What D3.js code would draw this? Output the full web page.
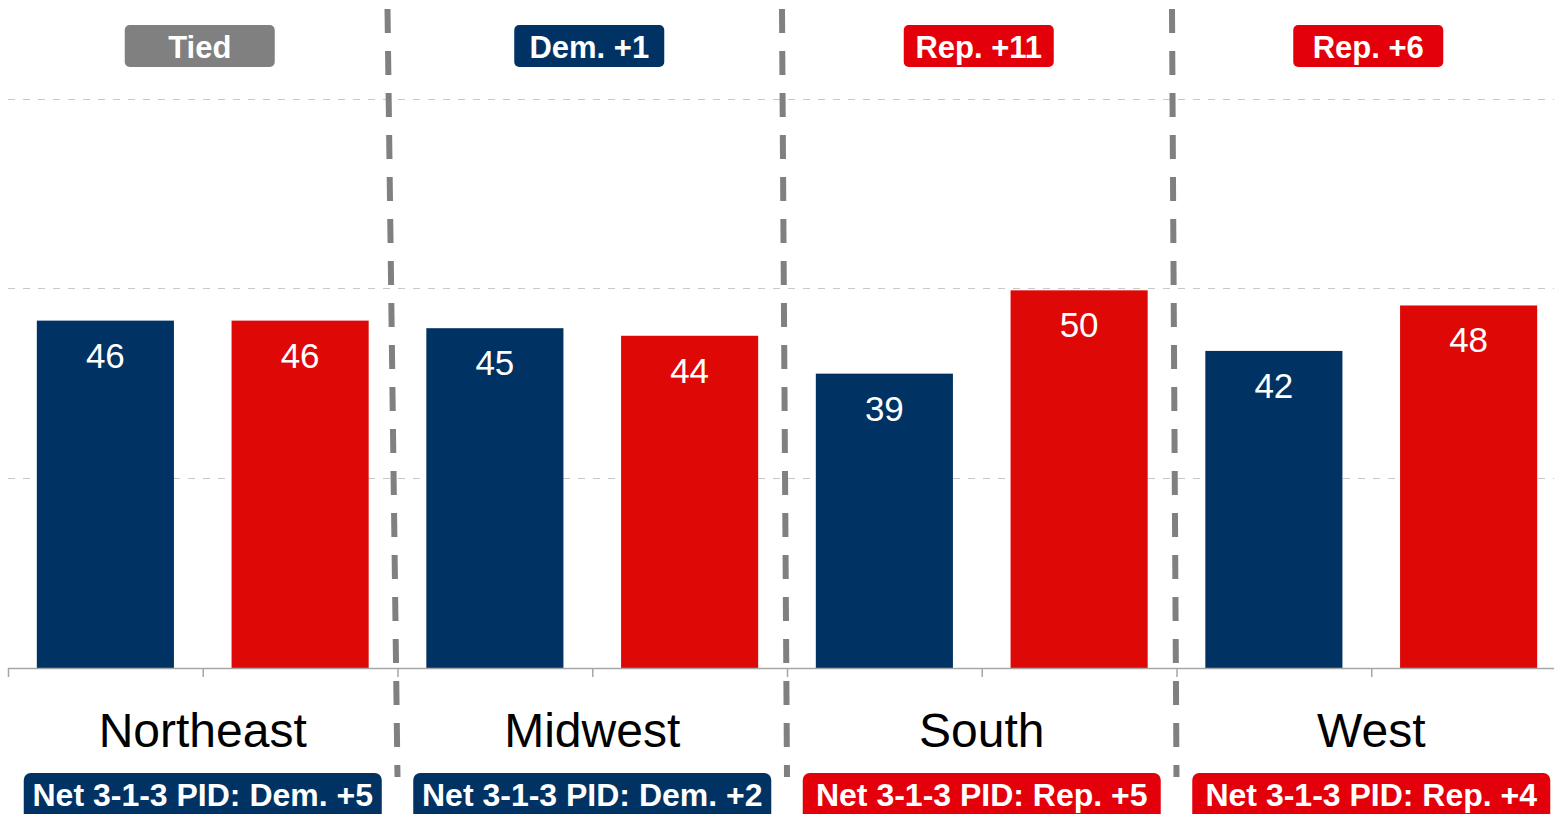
<!DOCTYPE html>
<html><head><meta charset="utf-8">
<script src="https://cdn.jsdelivr.net/npm/d3@7"></script>
<style>
html,body{margin:0;padding:0;background:#fff;}
svg{display:block;font-family:"Liberation Sans",Arial,sans-serif;}
</style></head>
<body>
<svg id="chart" width="1554" height="814"></svg>
<script>
const regions = ["Northeast","Midwest","South","West"];
const parties = ["Dem","Rep"];
const demValues = [46,45,39,42];
const repValues = [46,44,50,48];
const marginLabels = ["Tied","Dem. +1","Rep. +11","Rep. +6"];
const marginParty = ["Tie","Dem","Rep","Rep"];
const pidLabels = ["Net 3-1-3 PID: Dem. +5","Net 3-1-3 PID: Dem. +2","Net 3-1-3 PID: Rep. +5","Net 3-1-3 PID: Rep. +4"];
const pidParty = ["Dem","Dem","Rep","Rep"];
const yTicks = [25,50,75];

const colors = {Dem:"#003263", Rep:"#de0806", Tie:"#808080"};
const boxColors = {Dem:"#003263", Rep:"#e4000a", Tie:"#808080"};

const svg = d3.select("#chart");
const x0 = d3.scaleBand().domain(regions).range([8,1566]).padding(0);
const x1 = d3.scaleBand().domain(parties).range([0,x0.bandwidth()]).paddingInner(0.296).paddingOuter(0.148);
const y = d3.scaleLinear().domain([0,75]).range([668,100]);

// gridlines
svg.append("g").selectAll("line").data(yTicks).join("line")
  .attr("x1",8).attr("x2",1554)
  .attr("y1",d=>Math.round(y(d))-0.5).attr("y2",d=>Math.round(y(d))-0.5)
  .attr("stroke","#c8c8c8").attr("stroke-width",1).attr("stroke-dasharray","7,8");

// bars
const data = regions.flatMap((r,i)=>[
  {region:r, party:"Dem", value:demValues[i]},
  {region:r, party:"Rep", value:repValues[i]}]);
svg.append("g").selectAll("rect").data(data).join("rect")
  .attr("x",d=>x0(d.region)+x1(d.party))
  .attr("width",x1.bandwidth())
  .attr("y",d=>y(d.value)+1)
  .attr("height",d=>y(0)-y(d.value)-1)
  .attr("fill",d=>colors[d.party]);
svg.append("g").selectAll("text").data(data).join("text")
  .attr("x",d=>x0(d.region)+x1(d.party)+x1.bandwidth()/2)
  .attr("y",d=>y(d.value)+48)
  .attr("text-anchor","middle").attr("fill","#fff")
  .attr("font-size",35).text(d=>d.value);

// axis
const ax = svg.append("g");
ax.append("line").attr("x1",8).attr("x2",1554).attr("y1",668.5).attr("y2",668.5)
  .attr("stroke","#a6a6a6").attr("stroke-width",1.5);
const tickXs = regions.flatMap(r=>[x0(r), x0(r)+x0.bandwidth()/2]);
ax.selectAll("line.tick").data(tickXs).join("line").attr("class","tick")
  .attr("x1",d=>d+0.5).attr("x2",d=>d+0.5).attr("y1",668).attr("y2",677)
  .attr("stroke","#a6a6a6").attr("stroke-width",1.5);

// separators (slanted dashed)
const topShift = [-10,-5,-4.5];
const seps = regions.slice(1).map((r,i)=>({xb:x0(r), xt:x0(r)+topShift[i]}));
svg.append("g").selectAll("line").data(seps).join("line")
  .attr("x1",d=>d.xt).attr("y1",9).attr("x2",d=>d.xb).attr("y2",777)
  .attr("stroke","#808080").attr("stroke-width",6).attr("stroke-dasharray","24,18");

// category labels
svg.append("g").selectAll("text").data(regions).join("text")
  .attr("x",r=>x0(r)+x0.bandwidth()/2).attr("y",747)
  .attr("text-anchor","middle").attr("font-size",48).attr("fill","#000").text(r=>r);

// top margin boxes
const tg = svg.append("g").selectAll("g").data(regions).join("g")
  .attr("transform",(r)=>`translate(${x0(r)+x0.bandwidth()/2 - 3},0)`);
tg.append("rect").attr("x",-75).attr("width",150).attr("y",25).attr("height",42)
  .attr("rx",5).attr("fill",(r,i)=>boxColors[marginParty[i]]);
tg.append("text").attr("y",58).attr("text-anchor","middle").attr("fill","#fff")
  .attr("font-weight","bold").attr("font-size",31).text((r,i)=>marginLabels[i]);

// bottom PID boxes
const bg = svg.append("g").selectAll("g").data(regions).join("g")
  .attr("transform",(r)=>`translate(${x0(r)+x0.bandwidth()/2},0)`);
bg.append("rect").attr("x",-179).attr("width",358).attr("y",773).attr("height",60)
  .attr("rx",7).attr("fill",(r,i)=>boxColors[pidParty[i]]);
bg.append("text").attr("y",806).attr("text-anchor","middle").attr("fill","#fff")
  .attr("font-weight","bold").attr("font-size",32).text((r,i)=>pidLabels[i]);
</script>
</body></html>
